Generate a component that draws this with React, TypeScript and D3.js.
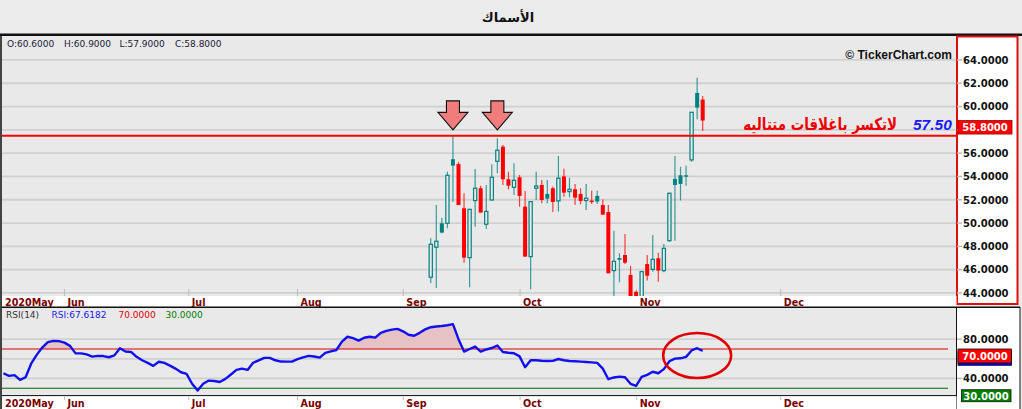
import React from 'react';
import * as d3 from 'd3';

const TITLE = 'الأسماك';
const NOTE = 'لاتكسر باغلاقات متتاليه';
const RESIST = 57.5;
const RESIST_LABEL = '57.50';
const WATERMARK = '© TickerChart.com';

// bar index of the first visible candle (index 0 = left edge of the chart)
const FIRST_INDEX = 77;
const OPEN = [45.35, 47.93, 49.98, 49.98, 55.48, 55.07, 51.27, 47.03, 51.93, 52.99,
  49.9, 51.98, 55.3, 56.56, 53.76, 53.07, 53.93, 51.41, 47.12, 52.99,
  53.27, 52.5, 52.99, 51.9, 54.0, 52.7, 52.9, 52.5, 51.93, 51.93,
  52.33, 51.55, 50.95, 45.92, 47.0, 47.26, 45.55, 44.1, 43.3, 46.49,
  46.03, 46.98, 45.92, 48.49, 53.79, 54.1, 54.1, 55.42, 61.17, 60.6];
const HIGH = [48.7, 51.55, 50.46, 54.41, 57.42, 55.27, 52.56, 51.18, 54.64, 53.2,
  53.27, 55.05, 57.28, 56.7, 54.41, 55.13, 54.13, 52.75, 51.84, 54.41,
  53.7, 53.7, 53.13, 55.76, 54.67, 53.9, 53.36, 52.99, 53.36, 52.78,
  52.78, 52.04, 51.55, 49.35, 47.41, 49.06, 46.32, 44.2, 45.9, 47.26,
  48.98, 47.46, 48.21, 52.6, 55.76, 54.84, 54.93, 59.51, 62.48, 60.9];
const LOW = [44.85, 44.43, 49.12, 49.55, 51.84, 51.55, 46.6, 44.49, 49.69, 50.9,
  49.5, 51.93, 54.27, 53.27, 52.9, 52.41, 51.41, 47.12, 44.32, 51.98,
  51.7, 51.7, 50.96, 51.0, 52.25, 52.21, 51.55, 51.61, 51.12, 51.64,
  51.64, 50.72, 45.69, 43.4, 44.92, 46.49, 43.3, 43.0, 43.0, 45.06,
  45.83, 44.97, 45.78, 48.4, 48.49, 51.93, 53.21, 55.27, 58.91, 57.9];
const CLOSE = [48.18, 48.44, 49.18, 54.1, 54.93, 51.55, 47.03, 51.18, 52.99, 50.9,
  51.0, 53.93, 56.25, 53.76, 53.21, 53.67, 52.33, 47.12, 51.84, 53.18,
  51.98, 52.1, 51.81, 53.85, 52.61, 52.9, 52.18, 51.9, 52.13, 51.8,
  51.85, 50.72, 45.69, 46.72, 46.85, 46.6, 43.5, 43.2, 45.83, 45.48,
  46.89, 45.92, 47.83, 52.56, 53.27, 53.36, 53.98, 59.51, 59.91, 58.8];

// RSI(14), one value per bar from index 0
const RSI = [45.3, 42.6, 43.4, 38.5, 41.2, 55, 64, 71.5, 77, 78.3,
  78, 76.5, 73.2, 65.5, 65.5, 64.5, 62.2, 63, 62.8, 61.6,
  63.5, 70.8, 67.4, 67, 62, 58.5, 55.8, 52.8, 57, 55.8,
  53, 50, 46.3, 44.6, 34.6, 27.6, 34.5, 37.8, 37.4, 36.4,
  39.5, 44, 48.7, 50, 48.7, 56, 58.5, 61, 61, 58.5,
  57.2, 57.1, 57.1, 59.6, 61.5, 63, 62.4, 61.2, 66, 67.5,
  69, 77.5, 82.5, 81, 78.6, 81.5, 82.5, 81.6, 86.5, 88.5,
  89.7, 90.5, 88, 84.5, 83.5, 86.5, 90, 92.2, 93, 93.5,
  94.2, 95.3, 80, 67.4, 70, 72.5, 67.4, 69.5, 71, 73.5,
  67, 66.2, 65.7, 62.5, 51.4, 58.5, 58.5, 58, 57.8, 57.9,
  59.8, 58.5, 57.8, 57.5, 57.1, 56.8, 56.4, 55.8, 50, 39.2,
  41, 41.8, 41.2, 34.5, 32.3, 41.5, 43.6, 46.8, 45.3, 49.5,
  57.5, 60.2, 60.5, 62, 68.5, 70.8, 68.1];
const RSI_LAST = '67.6182';
const RSI_UPPER = 70;
const RSI_LOWER = 30;

const MONTH_LABELS = ['2020May', 'Jun', 'Jul', 'Aug', 'Sep', 'Oct', 'Nov', 'Dec'];
const MONTH_POS = [0, 11, 33.4, 53, 72.05, 93.1, 114.1, 140.05];

const PRICE_TICKS = [44, 46, 48, 50, 52, 54, 56, 58, 60, 62, 64];
const RSI_TICKS = [40, 60, 80];
const ARROW_BARS = [81, 89];

const BG = '#ebebeb';
const PANEL = '#e9e9e9';
const GRID = '#d0d0d0';
const TEAL = '#008080';
const RED = '#ff0000';
const FONT = '"DejaVu Sans", Verdana, sans-serif';

export default function App() {
  const PX0 = 2, PX1 = 956.5, PY0 = 37, PY1 = 296;
  const RY0 = 308, RY1 = 395;

  const x = d3.scaleLinear().domain([0, 171]).range([3.4, 952.45]);
  const yP = d3.scaleLinear().domain([43.74, 65.97]).range([PY1, PY0]);
  const yR = d3.scaleLinear().domain([23.1, 111.8]).range([RY1, RY0]);

  const last = OPEN.length - 1;
  const rsiPts = RSI.map((v, i) => [i, v] as [number, number]);
  const rsiLine = d3.line<[number, number]>().x(d => x(d[0])).y(d => yR(d[1])).curve(d3.curveLinear);
  const rsiArea = d3.area<[number, number]>().x(d => x(d[0])).y0(yR(RSI_UPPER)).y1(d => yR(d[1]));

  const arrow = (cx: number, tipY: number) => {
    const pts = [
      [cx - 6.5, tipY - 29], [cx + 6.5, tipY - 29], [cx + 6.5, tipY - 17.5],
      [cx + 15, tipY - 17.5], [cx, tipY], [cx - 15, tipY - 17.5], [cx - 6.5, tipY - 17.5],
    ];
    return pts.map(p => p.join(',')).join(' ');
  };

  const priceLabel = (v: number) => v.toFixed(4);
  const lastBoxMid = yP(CLOSE[last]) + 6.75;
  const shownPriceLabels = PRICE_TICKS.filter(t => Math.abs(yP(t) - lastBoxMid) > 12);
  const rsiBoxMid = yR(RSI_UPPER) + 7;
  const shownRsiLabels = RSI_TICKS.filter(t => Math.abs(yR(t) - rsiBoxMid) > 12);

  return (
    <svg width={1022} height={409} style={{ position: 'absolute', left: 0, top: 0, display: 'block' }}
      fontFamily={FONT}>
      <defs>
        <clipPath id="pclip"><rect x={PX0} y={PY0} width={PX1 - PX0} height={PY1 - PY0} /></clipPath>
        <clipPath id="rclip"><rect x={PX0} y={RY0} width={PX1 - PX0} height={RY1 - RY0} /></clipPath>
        <clipPath id="above70"><rect x={PX0} y={RY0} width={PX1 - PX0} height={yR(RSI_UPPER) - RY0} /></clipPath>
      </defs>
      <rect x={0} y={0} width={1022} height={409} fill={BG} />
      <text x={508} y={22} textAnchor="middle" fontSize={13} fontWeight="bold" fill="#111">{TITLE}</text>
      <rect x={0} y={33.5} width={1022} height={2.5} fill="#111" />

      {/* price panel */}
      <rect x={PX0} y={PY0} width={PX1 - PX0} height={PY1 - PY0} fill={PANEL} />
      {PRICE_TICKS.map(t => (
        <line key={t} x1={PX0} x2={962} y1={yP(t)} y2={yP(t)} stroke={GRID} strokeWidth={1.8} />
      ))}
      {MONTH_POS.slice(1).map((m, k) => (
        <line key={k} x1={x(m)} x2={x(m)} y1={289} y2={PY1} stroke="#bbb" strokeWidth={1} />
      ))}
      <g fontSize={9} fill="#20203a">
        <text x={7} y={47}>O:{OPEN[last].toFixed(4)}</text>
        <text x={64} y={47}>H:{HIGH[last].toFixed(4)}</text>
        <text x={119.5} y={47}>L:{LOW[last].toFixed(4)}</text>
        <text x={175} y={47}>C:{CLOSE[last].toFixed(4)}</text>
      </g>
      <text x={952} y={59} textAnchor="end" fontSize={12} fontWeight="bold"
        fontFamily='"Liberation Sans", Arial, sans-serif' fill="#111">{WATERMARK}</text>

      <g clipPath="url(#pclip)">
        {OPEN.map((o, j) => {
          const c = CLOSE[j];
          const prev = j > 0 ? CLOSE[j - 1] : o;
          const up = c >= prev;
          const hollow = c > o;
          const col = up ? TEAL : RED;
          const cx = x(FIRST_INDEX + j);
          const top = yP(Math.max(o, c));
          const bot = yP(Math.min(o, c));
          return (
            <g key={j}>
              <line x1={cx} x2={cx} y1={yP(HIGH[j])} y2={yP(LOW[j])} stroke={col} strokeWidth={1.2} strokeOpacity={0.75} />
              {hollow ? (
                <rect x={cx - 1.6} y={top} width={3.2} height={Math.max(bot - top, 1)} fill={PANEL} stroke={col} strokeWidth={1.2} />
              ) : (
                <rect x={cx - 2} y={top} width={4} height={Math.max(bot - top, 1.2)} fill={col} />
              )}
            </g>
          );
        })}
      </g>

      {ARROW_BARS.map(b => (
        <polygon key={b} points={arrow(x(b), yP(58))} fill="#f07c7c" stroke="#111" strokeWidth={1.1} strokeLinejoin="miter" />
      ))}
      <line x1={0} x2={PX1} y1={yP(RESIST)} y2={yP(RESIST)} stroke={RED} strokeWidth={2} />
      <g transform="translate(897,130) scale(0.79,1)">
        <text x={0} y={0} textAnchor="end" fontSize={17} fontWeight="bold" fill="#ee0000">{NOTE}</text>
      </g>
      <text x={913} y={130} fontSize={15.5} fontWeight="bold" fontStyle="italic"
        fontFamily='"Liberation Sans", Arial, sans-serif' fill="#1a1aff">{RESIST_LABEL}</text>

      {/* price axis */}
      <rect x={957} y={36.5} width={60.5} height={267.5} fill="#fff" stroke="#e01010" strokeWidth={2} />
      {PRICE_TICKS.map(t => (
        <line key={t} x1={957} x2={962} y1={yP(t)} y2={yP(t)} stroke="#bbb" strokeWidth={1.5} />
      ))}
      {shownPriceLabels.map(t => (
        <text key={t} x={963} y={yP(t) + 3.8} fontSize={10} fontWeight="bold" fill="#111">{priceLabel(t)}</text>
      ))}
      <rect x={958} y={yP(CLOSE[last])} width={54} height={13.5} fill={RED} stroke="#900" strokeWidth={0.8} />
      <text x={985} y={yP(CLOSE[last]) + 10.5} textAnchor="middle" fontSize={10} fontWeight="bold" fill="#fff">{priceLabel(CLOSE[last])}</text>

      {/* date strip 1 */}
      <rect x={PX0} y={PY1} width={PX1 - PX0} height={10.5} fill="#fff" />
      <g fontSize={9.6} fontWeight="bold" fill="#7a0000">
        {MONTH_LABELS.map((m, k) => (
          <text key={k} x={k === 0 ? 5 : x(MONTH_POS[k]) + 3} y={305.5}>{m}</text>
        ))}
      </g>
      <rect x={0} y={306.5} width={1020} height={1.5} fill="#111" />

      {/* RSI panel */}
      <rect x={PX0} y={RY0} width={PX1 - PX0} height={RY1 - RY0} fill={PANEL} />
      {RSI_TICKS.map(t => (
        <line key={t} x1={PX0} x2={962} y1={yR(t)} y2={yR(t)} stroke={GRID} strokeWidth={1.8} />
      ))}
      <g clipPath="url(#rclip)">
        <path d={rsiArea(rsiPts) || ''} fill="#e6c2c4" clipPath="url(#above70)" />
        <line x1={PX0} x2={948} y1={yR(RSI_UPPER)} y2={yR(RSI_UPPER)} stroke="#dd0000" strokeWidth={1.2} />
        <line x1={PX0} x2={948} y1={yR(RSI_LOWER)} y2={yR(RSI_LOWER)} stroke="#006400" strokeWidth={1.2} />
        <path d={rsiLine(rsiPts) || ''} fill="none" stroke="#1111ee" strokeWidth={2.4} strokeLinejoin="round" />
      </g>
      <g fontSize={9}>
        <text x={6} y={317.5} fill="#333">RSI(14)</text>
        <text x={51.5} y={317.5} fill="#2020ee">RSI:{RSI_LAST}</text>
        <text x={118.5} y={317.5} fill="#dd0000">{RSI_UPPER.toFixed(4)}</text>
        <text x={165.5} y={317.5} fill="#008000">{RSI_LOWER.toFixed(4)}</text>
      </g>
      <ellipse cx={x(125)} cy={yR(63.4)} rx={34} ry={22.5} fill="none" stroke="#e00000" strokeWidth={2.6} />

      {/* RSI axis */}
      <rect x={956.5} y={307.5} width={63.5} height={102} fill="#fff" stroke="#111" strokeWidth={1} />
      {RSI_TICKS.map(t => (
        <line key={t} x1={957} x2={962} y1={yR(t)} y2={yR(t)} stroke="#bbb" strokeWidth={1.5} />
      ))}
      {shownRsiLabels.map(t => (
        <text key={t} x={963} y={yR(t) + 3.8} fontSize={10} fontWeight="bold" fill="#111">{t.toFixed(4)}</text>
      ))}
      <rect x={958} y={yR(+RSI_LAST)} width={53.5} height={14} fill="#0000ff" stroke="#111" strokeWidth={0.8} />
      <rect x={958} y={yR(RSI_UPPER)} width={53.5} height={14} fill={RED} stroke="#111" strokeWidth={0.8} />
      <text x={985} y={yR(RSI_UPPER) + 10.8} textAnchor="middle" fontSize={10} fontWeight="bold" fill="#fff">{RSI_UPPER.toFixed(4)}</text>
      <rect x={961.5} y={yR(RSI_LOWER) + 1.5} width={49.5} height={12} fill="#008000" stroke="#111" strokeWidth={0.8} />
      <text x={986} y={yR(RSI_LOWER) + 11.3} textAnchor="middle" fontSize={10} fontWeight="bold" fill="#fff">{RSI_LOWER.toFixed(4)}</text>

      {/* date strip 2 */}
      <rect x={0} y={395} width={PX1} height={1.3} fill="#222" />
      <rect x={PX0} y={396.3} width={PX1 - PX0} height={12.7} fill="#fff" />
      {MONTH_POS.slice(1).map((m, k) => (
        <line key={k} x1={x(m)} x2={x(m)} y1={396.5} y2={400} stroke="#bbb" strokeWidth={1} />
      ))}
      <g fontSize={9.6} fontWeight="bold" fill="#7a0000">
        {MONTH_LABELS.map((m, k) => (
          <text key={k} x={k === 0 ? 5 : x(MONTH_POS[k]) + 3} y={406.5}>{m}</text>
        ))}
      </g>
      <rect x={0} y={36} width={2} height={373} fill="#444" />
    </svg>
  );
}
